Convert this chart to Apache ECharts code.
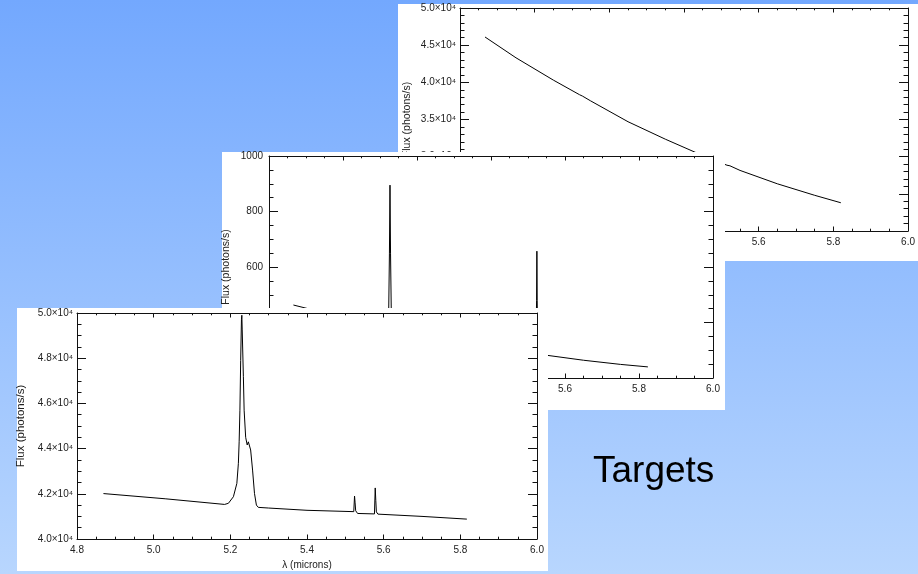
<!DOCTYPE html>
<html><head><meta charset="utf-8">
<script src="https://cdn.jsdelivr.net/npm/echarts@6/dist/echarts.min.js"></script>
<style>html,body{margin:0;padding:0;overflow:hidden}#c{width:918px;height:574px}</style>
</head><body><div id="c"></div>
<script>
// ---- Panel 1 (back): wavelength (microns) and flux (photons/s)
const wl1   = [4.867, 4.95, 5.05, 5.12, 5.125, 5.128, 5.15, 5.25, 5.35, 5.45, 5.515, 5.519, 5.523, 5.55, 5.65, 5.75, 5.82];
const flux1 = [46100, 43300, 40300, 38340, 38500, 38150, 37500, 34700, 32350, 30150, 28850, 29050, 28770, 28150, 26350, 24800, 23800];

// ---- Panel 2 (middle)
const wl2   = [4.866, 4.95, 5.05, 5.123, 5.1255, 5.127, 5.1285, 5.131, 5.15, 5.25, 5.35, 5.45, 5.521, 5.5232, 5.524, 5.5248, 5.527, 5.55, 5.65, 5.75, 5.824];
const flux2 = [463, 435, 405, 385, 650, 895, 650, 384, 377, 349, 325, 303, 288, 480, 657, 480, 287, 282, 264, 249, 240];

// ---- Panel 3 (front)
const wl3   = [4.869, 5.03, 5.185, 5.195, 5.208, 5.217, 5.221, 5.223, 5.225, 5.227, 5.229, 5.230, 5.231, 5.234, 5.236, 5.240, 5.244, 5.247, 5.250, 5.253, 5.258, 5.263, 5.268, 5.273, 5.30, 5.40, 5.522, 5.524, 5.5255, 5.527, 5.532, 5.576, 5.578, 5.5795, 5.581, 5.585, 5.70, 5.817];
const flux3 = [42010, 41780, 41530, 41580, 41870, 42460, 43350, 44300, 45700, 47900, 49700, 49900, 49250, 47200, 45700, 44500, 44160, 44300, 44350, 43940, 43050, 42020, 41500, 41400, 41370, 41270, 41210, 41900, 41600, 41250, 41130, 41110, 42260, 41700, 41200, 41100, 41000, 40880];

// ---- Axis ranges and titles
const xRange = [4.8, 6.0], xStep = 0.2;
const yRange1 = [20000, 50000], yStep1 = 5000;
const yRange2 = [200, 1000], yStep2 = 200;
const yRange3 = [40000, 50000], yStep3 = 2000;
const yTitle = 'Flux (photons/s)';
const xTitle = 'λ (microns)';
const slideTitle = 'Targets';

const FONT = '"Liberation Sans", Arial, Helvetica, sans-serif';
const INK = '#111';
const sci = v => (v / 1e4).toFixed(1) + '×10⁴';
const plain = v => String(Math.round(v));

function pairs(x, y) { return x.map((v, i) => [v, y[i]]); }

function xAx(gi, z, pos, labelMargin, nameGap) {
  return {
    type: 'value', gridIndex: gi, position: pos, z: z,
    min: xRange[0], max: xRange[1], interval: xStep,
    axisLine: { show: true, onZero: false, lineStyle: { color: INK, width: 1 } },
    axisTick: { show: true, inside: true, length: 4.5, lineStyle: { color: INK, width: 1 } },
    minorTick: { show: true, splitNumber: 4, length: 2.3, lineStyle: { color: INK, width: 1 } },
    splitLine: { show: false },
    axisLabel: { show: pos === 'bottom', margin: labelMargin, fontSize: 10, lineHeight: 10, fontFamily: FONT, color: '#222',
                 showMinLabel: true, showMaxLabel: true, formatter: v => v.toFixed(1) },
    name: pos === 'bottom' ? xTitle : '', nameLocation: 'middle', nameGap: nameGap,
    nameTextStyle: { fontSize: 10, fontFamily: FONT, color: '#222' }
  };
}
function yAx(gi, z, pos, range, step, minor, fmt, labelMargin, nameGap, nameSize) {
  return {
    type: 'value', gridIndex: gi, position: pos, z: z,
    min: range[0], max: range[1], interval: step,
    axisLine: { show: true, onZero: false, lineStyle: { color: INK, width: 1 } },
    axisTick: { show: true, inside: true, length: 9, lineStyle: { color: INK, width: 1 } },
    minorTick: { show: true, splitNumber: minor, length: 4.5, lineStyle: { color: INK, width: 1 } },
    splitLine: { show: false },
    axisLabel: { show: pos === 'left', margin: labelMargin, fontSize: 10, fontFamily: FONT, color: '#222',
                 showMinLabel: true, showMaxLabel: true, formatter: fmt },
    name: pos === 'left' ? yTitle : '', nameLocation: 'middle', nameGap: nameGap, nameRotate: 90,
    nameTextStyle: { fontSize: nameSize, fontFamily: FONT, color: '#222' }
  };
}
function line(idx, data, z) {
  return {
    type: 'line', xAxisIndex: idx, yAxisIndex: idx, data: data, z: z,
    showSymbol: false, symbol: 'none', smooth: false, clip: true,
    lineStyle: { color: '#000', width: 1 }, emphasis: { disabled: true }
  };
}

const chart = echarts.init(document.getElementById('c'), null, { renderer: 'canvas' });
chart.setOption({
  animation: false,
  backgroundColor: { type: 'linear', x: 0, y: 0, x2: 0, y2: 1,
    colorStops: [{ offset: 0, color: '#73a8fe' }, { offset: 1, color: '#b8d6fe' }] },
  graphic: { elements: [
    { type: 'rect', z: 1, shape: { x: 398, y: 4, width: 520, height: 257 }, style: { fill: '#fff' } },
    { type: 'rect', z: 4, shape: { x: 222, y: 152, width: 503, height: 258 }, style: { fill: '#fff' } },
    { type: 'rect', z: 7, shape: { x: 17, y: 308, width: 531, height: 263 }, style: { fill: '#fff' } },
    { type: 'text', z: 1, x: 593, y: 472, style: { text: slideTitle, font: '37px "Liberation Sans", Arial, sans-serif', fill: '#000', verticalAlign: 'middle' } }
  ] },
  grid: [
    { left: 460, top: 8, width: 450, height: 223 },
    { left: 269, top: 156, width: 444, height: 222 },
    { left: 77, top: 313, width: 460, height: 226 }
  ],
  xAxis: [
    xAx(0, 2, 'bottom', 6, 20), xAx(0, 2, 'top', 6, 20),
    xAx(1, 5, 'bottom', 6, 20), xAx(1, 5, 'top', 6, 20),
    xAx(2, 8, 'bottom', 6, 21), xAx(2, 8, 'top', 6, 21)
  ],
  yAxis: [
    yAx(0, 2, 'left', yRange1, yStep1, 5, sci, 4, 47, 10.5), yAx(0, 2, 'right', yRange1, yStep1, 5, sci, 4, 47, 10.5),
    yAx(1, 5, 'left', yRange2, yStep2, 4, plain, 6, 37, 10.5), yAx(1, 5, 'right', yRange2, yStep2, 4, plain, 6, 37, 10.5),
    yAx(2, 8, 'left', yRange3, yStep3, 4, sci, 4, 46, 11.5), yAx(2, 8, 'right', yRange3, yStep3, 4, sci, 4, 46, 11.5)
  ],
  series: [
    line(0, pairs(wl1, flux1), 3),
    line(2, pairs(wl2, flux2), 6),
    line(4, pairs(wl3, flux3), 9)
  ]
});
</script>
</body></html>
